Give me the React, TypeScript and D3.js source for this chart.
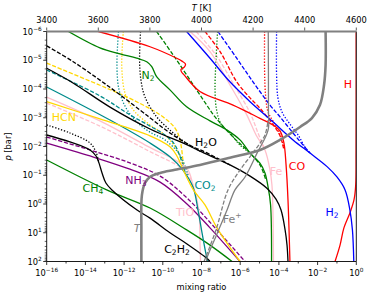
import React from 'react'
import * as d3 from 'd3'

// temperature profile (top axis)
const tempK = [4481, 4481, 4475, 4459, 4428, 4382, 4304, 4227, 4110, 3994, 3897, 3839, 3800, 3781, 3769, 3767, 3767]
const tempLogP = [-6, -4.83, -4.14, -3.44, -2.99, -2.68, -2.23, -1.88, -1.61, -1.36, -1.19, -1.08, -0.94, -0.73, -0.31, 0.9, 2]

// species profiles: [log10 mixing ratio, log10 p/bar]
const h2oSolid = [[-16, -4.72], [-14.64, -4.21], [-12.73, -3.37], [-10.66, -2.61], [-8.85, -2.09], [-8.08, -1.84], [-6.53, -1.36], [-5.49, -0.97], [-4.62, -0.55], [-4.15, -0.17], [-3.89, 0.21], [-3.68, 0.9], [-3.58, 1.43], [-3.53, 2]]
const h2oDashed = [[-16, -5.5], [-14.63, -4.95], [-12.9, -4.14], [-11.18, -3.27], [-10.51, -2.92], [-9.63, -2.47], [-8.44, -1.99], [-7.82, -1.81], [-6.53, -1.36]]
const h2oDotted = [[-11.15, -6], [-11.2, -5.01], [-11.13, -4.31], [-10.92, -3.72], [-10.35, -3.06], [-9.63, -2.57], [-8.8, -2.12], [-8.08, -1.84]]
const c2h2Solid = [[-16, -2.4], [-14.8, -2.16], [-13.76, -1.88], [-13.45, -1.67], [-13.3, -1.43], [-13.14, -1.08], [-12.94, -0.73], [-12.63, -0.49], [-11.33, 0.21], [-10.66, 0.49], [-9.63, 1.0], [-8.75, 1.39], [-7.72, 1.89], [-7.56, 2]]
const c2h2Dotted = [[-16, -2.75], [-14.8, -2.47], [-13.76, -2.12], [-13.45, -1.8], [-13.3, -1.43]]
const n2Solid = [[-14.88, -6], [-13.25, -5.43], [-12.21, -5.22], [-11.35, -5.07], [-10.83, -4.95], [-10.57, -4.78], [-10.32, -4.43], [-9.63, -3.97], [-8.77, -3.38], [-7.56, -2.89], [-6.68, -2.57], [-6.01, -2.23], [-5.49, -1.77], [-4.98, -1.42], [-4.72, -1.08], [-4.56, -0.59], [-4.43, 0.03], [-4.38, 2]]
const n2Dashed = [[-10.32, -6], [-9.46, -5.18], [-8.59, -4.31], [-7.73, -3.44], [-7.3, -3.03], [-6.37, -2.33], [-5.49, -1.77], [-4.98, -1.36], [-4.67, -0.83]]
const n2Dotted = [[-7.17, -6], [-7.25, -5.01], [-7.3, -3.97], [-7.22, -3.27], [-6.99, -2.78], [-6.53, -2.47], [-6.01, -2.05], [-5.49, -1.77]]
const ch4Solid = [[-16, -1.53], [-12.9, -0.49], [-10.66, 0.14], [-8.77, 0.9], [-7.56, 1.43], [-6.42, 2]]
const coSolid = [[-13.33, -6], [-10.66, -5.47], [-9.28, -5.07], [-9.01, -4.97], [-8.83, -4.87], [-8.88, -4.77], [-9.06, -4.68], [-9.03, -4.59], [-8.9, -4.49], [-8.08, -3.91], [-6.37, -3.44], [-4.98, -2.98], [-4.31, -2.75], [-3.94, -2.54], [-3.74, -2.12], [-3.63, -1.36], [-3.53, -0.14], [-3.43, 2]]
const coDashed = [[-7.82, -6], [-7.04, -5.3], [-6.18, -4.25], [-5.49, -3.69], [-4.98, -3.33], [-4.29, -2.75], [-3.94, -2.37], [-3.74, -1.88]]
const coDotted = [[-4.74, -6], [-4.74, -4.66], [-4.69, -3.79], [-4.56, -3.2], [-4.25, -2.82], [-3.94, -2.43], [-3.74, -1.95]]
const hSolid = [[-1.1, 2], [-0.84, 1.43], [-0.64, 0.83], [-0.33, 0.31], [-0.12, -0.14], [-0.03, -0.66], [-0.01, -1.88], [-0.005, -6]]
const h2Solid = [[-8.77, -6], [-7.56, -5.07], [-6.53, -4.25], [-5.49, -3.56], [-4.31, -2.86], [-3.27, -2.23], [-2.39, -1.77], [-1.51, -1.3], [-1.0, -0.94], [-0.58, -0.49], [-0.33, 0.21], [-0.2, 0.9], [-0.13, 2]]
const h2Dashed = [[-7.15, -6], [-6.18, -5.07], [-5.34, -4.25], [-4.46, -3.44], [-3.94, -3.03], [-3.27, -2.47], [-2.75, -2.05], [-2.39, -1.77]]
const h2Dotted = [[-4.12, -6], [-4.12, -4.49], [-4.05, -3.69], [-3.84, -3.2], [-3.43, -2.78], [-3.01, -2.4], [-2.65, -1.98], [-2.39, -1.77]]
const hcnSolid = [[-16, -3.56], [-13.25, -2.96], [-10.66, -2.37], [-9.63, -1.99], [-9.27, -1.67], [-8.94, -1.18], [-8.42, -0.49], [-7.82, 0.03], [-7.2, 0.83], [-6.01, 2]]
const hcnDashed = [[-16, -4.9], [-12.9, -4.03], [-11.54, -3.62], [-10.14, -3.1], [-9.37, -2.64], [-9.11, -2.23], [-8.94, -1.36]]
const hcnDotted = [[-12.04, -6], [-12.12, -4.78], [-11.95, -3.85], [-11.52, -3.27], [-10.66, -2.75], [-9.89, -2.4], [-9.27, -1.88], [-8.94, -1.36]]
const co2Solid = [[-16, -4.07], [-12.73, -2.92], [-10.66, -2.12], [-9.63, -1.64], [-8.96, -1.18], [-8.44, -0.59], [-8.18, 0.21], [-7.97, 1.01], [-7.72, 1.88], [-7.66, 2]]
const co2Dashed = [[-16, -4.66], [-13.25, -3.76], [-11.7, -3.1], [-10.66, -2.71], [-9.89, -2.4], [-9.37, -2.05], [-8.85, -1.11]]
const co2Dotted = [[-12.29, -6], [-12.37, -4.83], [-12.26, -3.97], [-11.9, -3.34], [-11.33, -2.85], [-10.66, -2.5], [-9.89, -2.23], [-9.11, -1.7], [-8.7, -1.01]]
const nh3Solid = [[-16, -2.12], [-13.76, -1.67], [-11.7, -1.21], [-10.14, -0.76], [-8.75, 0.0], [-7.56, 0.83], [-6.01, 2]]
const nh3Dashed = [[-16, -2.33], [-13.76, -1.88], [-11.7, -1.43], [-10.14, -0.97], [-8.75, -0.21], [-7.3, 0.83], [-5.75, 2]]
const tioSolid = [[-16, -3.72], [-13.25, -2.89], [-10.83, -2.02], [-8.77, -1.25], [-8.44, -0.66], [-8.23, -0.14], [-8.1, 0.56], [-8.08, 1.25], [-8.05, 2]]
const tioDashed = [[-16, -3.51], [-13.25, -2.71], [-10.83, -1.88], [-8.77, -1.11], [-8.44, -0.66]]
const feSolid = [[-8.59, -6], [-7.56, -5.3], [-6.53, -4.14], [-5.66, -3.1], [-5.18, -2.4], [-4.72, -1.88], [-4.46, -1.18], [-4.36, -0.66], [-4.31, 0.21], [-4.28, 2]]
const feDashed = [[-8.28, -6], [-7.25, -5.18], [-6.32, -4.14], [-5.49, -3.17], [-5.08, -2.47], [-4.72, -1.88]]
const feIonSolid = [[-4.55, -6], [-4.54, -3.27], [-4.56, -2.57], [-5.13, -1.77], [-5.75, -0.94], [-6.27, -0.49], [-6.68, 0.21], [-7.2, 1.04], [-7.72, 1.88], [-7.74, 2]]
const feIonDashed = [[-7.87, 2], [-7.25, 0.9], [-6.63, -0.49], [-6.01, -1.18], [-5.23, -1.88], [-4.72, -2.4], [-4.56, -2.92]]

const GREEN = '#008000', RED = '#ff0000', BLUE = '#0000ff', GOLD = '#ffd700'
const TEAL = '#008b8b', PURPLE = '#800080', PINK = '#ffc0cb', GRAY = '#808080'

const DASH = '4.2,1.8'
const DOT = '1.3,1.7'

const curves = [
  {d: tioDashed, c: PINK, s: DASH},
  {d: feDashed, c: PINK, s: DASH},
  {d: hcnDotted, c: GOLD, s: DOT},
  {d: hcnDashed, c: GOLD, s: DASH},
  {d: co2Dotted, c: TEAL, s: DOT},
  {d: co2Dashed, c: TEAL, s: DASH},
  {d: h2oDotted, c: 'black', s: DOT},
  {d: h2oDashed, c: 'black', s: DASH},
  {d: c2h2Dotted, c: 'black', s: DOT},
  {d: n2Dotted, c: GREEN, s: DOT},
  {d: n2Dashed, c: GREEN, s: DASH},
  {d: coDotted, c: RED, s: DOT},
  {d: coDashed, c: RED, s: DASH},
  {d: h2Dotted, c: BLUE, s: DOT},
  {d: h2Dashed, c: BLUE, s: DASH},
  {d: nh3Dashed, c: PURPLE, s: DASH},
  {d: tioSolid, c: PINK, s: null},
  {d: feSolid, c: PINK, s: null},
  {d: ch4Solid, c: GREEN, s: null},
  {d: n2Solid, c: GREEN, s: null},
  {d: nh3Solid, c: PURPLE, s: null},
  {d: co2Solid, c: TEAL, s: null},
  {d: hcnSolid, c: GOLD, s: null},
  {d: h2oSolid, c: 'black', s: null},
  {d: c2h2Solid, c: 'black', s: null},
  {d: coSolid, c: RED, s: null},
  {d: hSolid, c: RED, s: null},
  {d: h2Solid, c: BLUE, s: null},
  {d: feIonDashed, c: GRAY, s: DASH},
  {d: feIonSolid, c: GRAY, s: null},
]

// label anchor positions [log10 x, log10 p]
const labels = [
  {name: 'N2', at: [-10.77, -4.45], c: GREEN},
  {name: 'HCN', at: [-15.11, -2.99], c: GOLD},
  {name: 'H2O', at: [-7.77, -2.12], c: 'black'},
  {name: 'NH3', at: [-11.39, -0.8], c: PURPLE},
  {name: 'CH4', at: [-13.61, -0.52], c: GREEN},
  {name: 'CO2', at: [-7.82, -0.63], c: TEAL},
  {name: 'TiO', at: [-8.85, 0.31], c: PINK},
  {name: 'Fe+', at: [-6.42, 0.56], c: GRAY},
  {name: 'C2H2', at: [-9.27, 1.6], c: 'black'},
  {name: 'CO', at: [-3.07, -1.29], c: RED},
  {name: 'Fe', at: [-4.15, -1.11], c: PINK},
  {name: 'H2', at: [-1.25, 0.31], c: BLUE},
  {name: 'H', at: [-0.43, -4.14], c: RED},
]

const xDecades = d3.range(-16, 1)
const yDecades = d3.range(-6, 3)
const tTicks = d3.range(3400, 4601, 200)

function Chem({name, x, y, c}: {name: string; x: number; y: number; c: string}) {
  const parts = name.match(/[A-Za-z]+|\d+|\+/g) || []
  return (
    <text x={x} y={y} fill={c} fontSize={11} textAnchor="middle" dominantBaseline="middle">
      {parts.map((p, i) => {
        if (/\d/.test(p)) return <tspan key={i} fontSize={7.5} dy={3}>{p}</tspan>
        if (p === '+') return <tspan key={i} fontSize={7.5} dy={-4}>+</tspan>
        const prev = parts[i - 1]
        const dy = prev && /\d/.test(prev) ? -3 : prev === '+' ? 4 : 0
        return <tspan key={i} dy={dy}>{p}</tspan>
      })}
    </text>
  )
}

export default function App() {
  const L = 46.7, R = 356.3, T = 31.5, B = 261.5
  const x = d3.scaleLog().domain([1e-16, 1]).range([L, R])
  const y = d3.scaleLog().domain([1e-6, 1e2]).range([T, B])
  const t = d3.scaleLinear().domain([3400, 4600]).range([L, R])
  const line = d3.line<number[]>()
    .x((d) => x(10 ** d[0]))
    .y((d) => y(10 ** d[1]))
    .curve(d3.curveCatmullRom.alpha(0.5))
  const tPath = d3.line<number>()
    .x((d) => t(d))
    .y((d, i) => y(10 ** tempLogP[i]))
    .curve(d3.curveCatmullRom.alpha(0.5))(tempK)

  const minor: number[] = []
  yDecades.slice(0, -1).forEach((k) => {
    for (let m = 2; m < 10; m++) minor.push(m * 10 ** k)
  })

  return (
    <svg width={374} height={296} style={{position: 'absolute', left: 0, top: 0, background: 'white'}}
      fontFamily="DejaVu Sans, sans-serif">
      <defs>
        <clipPath id="plot"><rect x={L} y={T} width={R - L} height={B - T} /></clipPath>
      </defs>
      <g clipPath="url(#plot)" fill="none" strokeWidth={1.3}>
        {curves.map((cv, i) => (
          <path key={i} d={line(cv.d) || ''} stroke={cv.c} strokeDasharray={cv.s || undefined} />
        ))}
        <path d={tPath || ''} stroke={GRAY} strokeWidth={2.6} />
      </g>
      {labels.map((lb) => (
        <Chem key={lb.name} name={lb.name} x={x(10 ** lb.at[0])} y={y(10 ** lb.at[1])} c={lb.c} />
      ))}
      <text x={x(10 ** -11.33)} y={y(10 ** 0.87)} fill={GRAY} fontSize={11} fontStyle="italic"
        textAnchor="middle" dominantBaseline="middle">T</text>

      {/* frame */}
      <line x1={L} x2={L} y1={T} y2={B} stroke="black" strokeWidth={0.9} />
      <line x1={L} x2={R} y1={B} y2={B} stroke="black" strokeWidth={0.9} />
      <line x1={R} x2={R} y1={T} y2={B} stroke="black" strokeWidth={0.9} />
      <line x1={L} x2={R} y1={T} y2={T} stroke={GRAY} strokeWidth={2} />

      {/* bottom axis */}
      {xDecades.map((k) => (
        <line key={k} x1={x(10 ** k)} x2={x(10 ** k)} y1={B} y2={B + (k % 2 === 0 ? 3.5 : 2)} stroke="black" strokeWidth={0.8} />
      ))}
      {xDecades.filter((k) => k % 2 === 0).map((k) => (
        <text key={k} x={x(10 ** k)} y={276} fontSize={8.3} textAnchor="middle">
          10<tspan fontSize={5.8} dy={-4}>{k === 0 ? '0' : '\u2212' + -k}</tspan>
        </text>
      ))}
      <text x={(L + R) / 2} y={290} fontSize={8.3} textAnchor="middle">mixing ratio</text>

      {/* left axis */}
      {yDecades.map((k) => (
        <g key={k}>
          <line x1={L - 3.5} x2={L} y1={y(10 ** k)} y2={y(10 ** k)} stroke="black" strokeWidth={0.8} />
          <text x={L - 5} y={y(10 ** k) + 3} fontSize={8.3} textAnchor="end">
            10<tspan fontSize={5.8} dy={-4}>{k < 0 ? '\u2212' + -k : String(k)}</tspan>
          </text>
        </g>
      ))}
      {minor.map((v, i) => (
        <line key={i} x1={L - 2} x2={L} y1={y(v)} y2={y(v)} stroke="black" strokeWidth={0.6} />
      ))}
      <text transform={`translate(11,${(T + B) / 2}) rotate(-90)`} fontSize={8.3} textAnchor="middle">
        <tspan fontStyle="italic">p</tspan> [bar]
      </text>

      {/* top axis */}
      {tTicks.map((v) => (
        <g key={v}>
          <line x1={t(v)} x2={t(v)} y1={T - 1} y2={T - 4} stroke="#333" strokeWidth={0.8} />
          <text x={t(v)} y={23} fontSize={8.3} textAnchor="middle">{v}</text>
        </g>
      ))}
      <text x={(L + R) / 2} y={11} fontSize={8.3} textAnchor="middle">
        <tspan fontStyle="italic">T</tspan> [K]
      </text>
    </svg>
  )
}
